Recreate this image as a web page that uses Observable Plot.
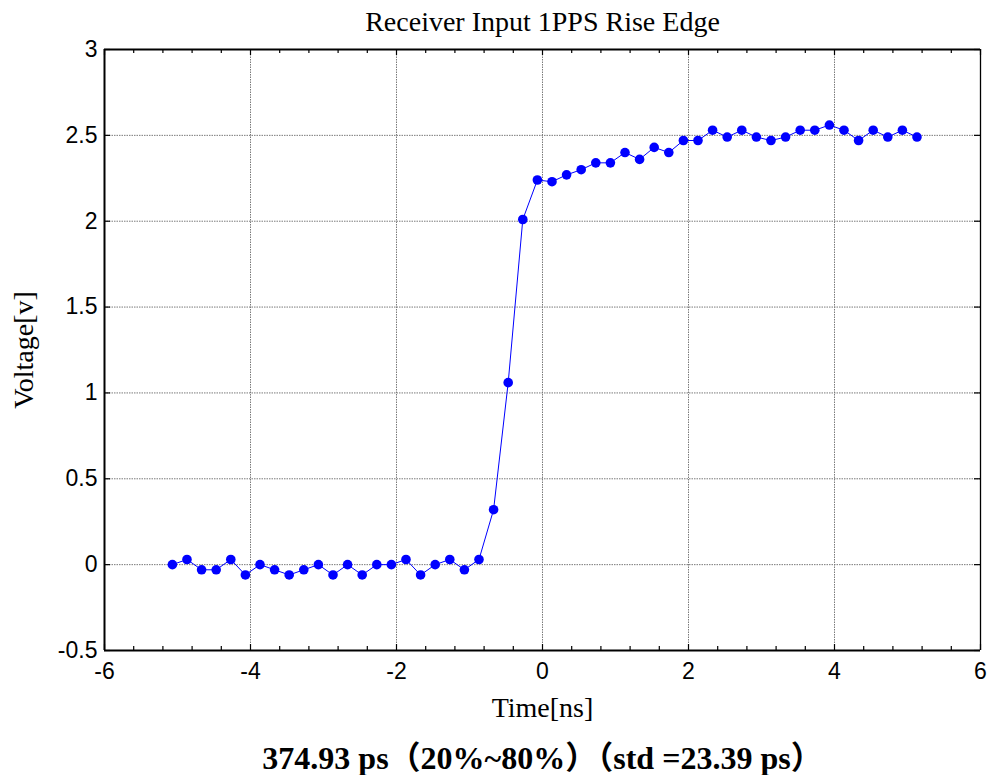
<!DOCTYPE html>
<html>
<head>
<meta charset="utf-8">
<script src="https://cdn.jsdelivr.net/npm/d3@7"></script>
<script src="https://cdn.jsdelivr.net/npm/@observablehq/plot@0.6"></script>
<style>
  html, body { margin: 0; padding: 0; background: #fff; }
</style>
</head>
<body>
<div id="chart"></div>
<script>
const timeNs = [-5.07, -4.87, -4.67, -4.47, -4.27, -4.07, -3.87, -3.67, -3.47, -3.27, -3.07, -2.87, -2.67,
  -2.47, -2.27, -2.07, -1.87, -1.67, -1.47, -1.27, -1.07, -0.87, -0.67, -0.47, -0.27, -0.07,
  0.13, 0.33, 0.53, 0.73, 0.93, 1.13, 1.33, 1.53, 1.73, 1.93, 2.13, 2.33, 2.53, 2.73, 2.93,
  3.13, 3.33, 3.53, 3.73, 3.93, 4.13, 4.33, 4.53, 4.73, 4.93, 5.13];
const voltage = [0, 0.03, -0.03, -0.03, 0.03, -0.06, 0, -0.03, -0.06, -0.03, 0, -0.06, 0,
  -0.06, 0, 0, 0.03, -0.06, 0, 0.03, -0.03, 0.03, 0.32, 1.06, 2.01, 2.24,
  2.23, 2.27, 2.30, 2.34, 2.34, 2.40, 2.36, 2.43, 2.40, 2.47, 2.47, 2.53, 2.49, 2.53, 2.49,
  2.47, 2.49, 2.53, 2.53, 2.56, 2.53, 2.47, 2.53, 2.49, 2.53, 2.49];

const xTicks = [-6, -4, -2, 0, 2, 4, 6];
const xTickLabels = ["-6", "-4", "-2", "0", "2", "4", "6"];
const xGrid = [-4, -2, 0, 2, 4];
const xMinorTicks = [-5.6, -5.2, -4.8, -4.4, -3.6, -3.2, -2.8, -2.4, -1.6, -1.2, -0.8, -0.4,
  0.4, 0.8, 1.2, 1.6, 2.4, 2.8, 3.2, 3.6, 4.4, 4.8, 5.2, 5.6];
const yTicks = [-0.5, 0, 0.5, 1, 1.5, 2, 2.5, 3];
const yTickLabels = ["-0.5", "0", "0.5", "1", "1.5", "2", "2.5", "3"];
const yGrid = [0, 0.5, 1, 1.5, 2, 2.5];
const xDomain = [-6, 6];
const yDomain = [-0.5, 3];

const titleText = "Receiver Input 1PPS Rise Edge";
const xLabel = "Time[ns]";
const yLabel = "Voltage[v]";
const captionText = "374.93 ps（20%~80%）（std =23.39 ps）";

const data = timeNs.map((t, i) => ({t, v: voltage[i]}));

const W = 988, H = 775;
const mT = 49, mB = 125, mL = 104, mR = 8;
const innerH = H - mT - mB, innerW = W - mL - mR;
const serif = "'Liberation Serif', 'Times New Roman', 'Noto Sans CJK SC', serif";
const sans = "'Liberation Sans', Arial, sans-serif";
const gridStyle = {stroke: "#7a7a7a", strokeOpacity: 1, strokeWidth: 1, strokeDasharray: "1.5,1"};

const chart = Plot.plot({
  width: W, height: H,
  marginTop: mT, marginBottom: mB, marginLeft: mL, marginRight: mR,
  style: {background: "#fff", overflow: "visible"},
  x: {domain: xDomain},
  y: {domain: yDomain},
  marks: [
    Plot.gridX(xGrid, gridStyle),
    Plot.gridY(yGrid, gridStyle),
    // inward ticks
    Plot.ruleX(xTicks, {x: d => d, insetTop: innerH - 6, stroke: "black", strokeWidth: 1.2}),
    Plot.ruleX(xTicks, {x: d => d, insetBottom: innerH - 6, stroke: "black", strokeWidth: 1.2}),
    Plot.ruleX(xMinorTicks, {x: d => d, insetTop: innerH - 4, stroke: "black", strokeWidth: 1.2}),
    Plot.ruleX(xMinorTicks, {x: d => d, insetBottom: innerH - 4, stroke: "black", strokeWidth: 1.2}),
    Plot.ruleY(yTicks, {y: d => d, insetRight: innerW - 6, stroke: "black", strokeWidth: 1.2}),
    Plot.ruleY(yTicks, {y: d => d, insetLeft: innerW - 6, stroke: "black", strokeWidth: 1.2}),
    // frame
    Plot.ruleX([xDomain[0]], {stroke: "black", strokeWidth: 2}),
    Plot.ruleX([xDomain[1]], {stroke: "black", strokeWidth: 1.3}),
    Plot.ruleY([yDomain[0]], {stroke: "black", strokeWidth: 2}),
    Plot.ruleY([yDomain[1]], {stroke: "black", strokeWidth: 2}),
    // axes labels
    Plot.axisX({anchor: "bottom", ticks: xTicks, tickSize: 0, tickPadding: 12,
      tickFormat: (d) => xTickLabels[xTicks.indexOf(d)], label: null,
      fontSize: 23, fontFamily: sans, fill: "black"}),
    Plot.axisY({anchor: "left", ticks: yTicks, tickSize: 0, tickPadding: 7,
      tickFormat: (d) => yTickLabels[yTicks.indexOf(d)], label: null,
      fontSize: 23, fontFamily: sans, fill: "black"}),
    // data
    Plot.line(data, {x: "t", y: "v", stroke: "#0000ff", strokeWidth: 1}),
    Plot.dot(data, {x: "t", y: "v", r: 4.8, fill: "#0000ff", stroke: "none"}),
    // texts
    Plot.text([titleText], {frameAnchor: "top", lineAnchor: "middle", textAnchor: "middle", dy: -27,
      fontSize: 28, fontFamily: serif, fill: "black"}),
    Plot.text([xLabel], {frameAnchor: "bottom", lineAnchor: "middle", textAnchor: "middle", dy: 58,
      fontSize: 28, fontFamily: serif, fill: "black"}),
    Plot.text([yLabel], {frameAnchor: "left", lineAnchor: "middle", textAnchor: "middle", dx: -80, rotate: -90,
      fontSize: 28, fontFamily: serif, fill: "black"}),
    Plot.text([captionText], {frameAnchor: "bottom", lineAnchor: "middle", textAnchor: "middle", dy: 108,
      fontSize: 32, fontWeight: "bold", fontFamily: serif, fill: "black"})
  ]
});
document.getElementById("chart").appendChild(chart);
</script>
</body>
</html>
